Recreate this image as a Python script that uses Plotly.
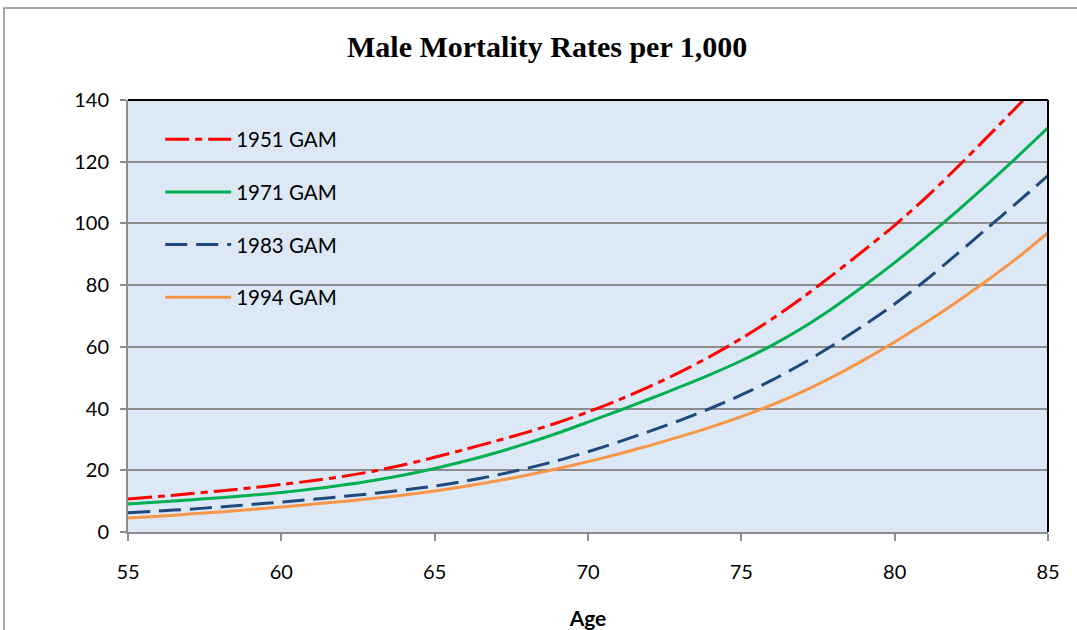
import plotly.graph_objects as go

ages = list(range(55, 86))

gam_1951 = [10.7, 11.5, 12.4, 13.3, 14.3, 15.4, 16.6, 18.0, 19.7, 21.8, 24.2, 26.8, 29.5, 32.3, 35.4,
            38.9, 42.8, 47.1, 51.8, 57.0, 62.7, 69.0, 76.0, 83.5, 91.3, 99.4, 108.2, 117.8, 127.8, 138.0, 148.5]
gam_1971 = [9.1, 9.7, 10.4, 11.1, 11.9, 12.8, 13.9, 15.2, 16.7, 18.5, 20.6, 23.0, 25.7, 28.7, 32.0,
            35.6, 39.3, 43.1, 47.0, 51.1, 55.5, 60.5, 66.2, 72.7, 79.8, 87.3, 95.3, 103.7, 112.5, 121.6, 131.0]
gam_1983 = [6.2, 6.8, 7.4, 8.1, 8.9, 9.7, 10.6, 11.5, 12.5, 13.6, 14.9, 16.5, 18.4, 20.6, 23.1,
            26.0, 29.2, 32.6, 36.2, 40.1, 44.4, 49.2, 54.6, 60.6, 67.0, 73.9, 81.5, 89.8, 98.3, 106.8, 115.5]
gam_1994 = [4.5, 5.1, 5.8, 6.5, 7.3, 8.1, 9.0, 9.9, 10.9, 12.0, 13.3, 14.8, 16.5, 18.4, 20.5,
            22.8, 25.3, 28.0, 30.9, 34.0, 37.4, 41.2, 45.5, 50.4, 55.8, 61.6, 67.8, 74.4, 81.4, 88.8, 97.0]

series_names = ["1951 GAM", "1971 GAM", "1983 GAM", "1994 GAM"]
series_values = [gam_1951, gam_1971, gam_1983, gam_1994]
series_colors = ["#FF0000", "#00B050", "#1F497D", "#F79646"]
series_dash = ["24px,6px,7px,6px", "solid", "22px,9px", "solid"]

x_ticks = [55, 60, 65, 70, 75, 80, 85]
y_ticks = [0, 20, 40, 60, 80, 100, 120, 140]

fig = go.Figure()
for name, vals, col, dash in zip(series_names, series_values, series_colors, series_dash):
    fig.add_trace(go.Scatter(
        x=ages, y=vals, mode="lines", name=name, legendgroup=name,
        line=dict(color=col, width=3, dash=dash, shape="spline", smoothing=0.8),
    ))

font_main = "Lato, Calibri, Carlito, sans-serif"

fig.update_layout(
    width=1077, height=630,
    margin=dict(l=128, r=29, t=100, b=98, autoexpand=False),
    paper_bgcolor="white",
    plot_bgcolor="#DCE8F6",
    title=dict(text="<b>Male Mortality Rates per 1,000</b>", x=0.508, xanchor="center",
               y=0.926, yanchor="middle",
               font=dict(family="Liberation Serif, Times New Roman, serif", size=30, color="black")),
    font=dict(family=font_main, size=20, color="black"),
    showlegend=True,
    legend=dict(x=0.035, y=0.955, xanchor="left", yanchor="top",
                bgcolor="rgba(0,0,0,0)", font=dict(family=font_main, size=20.5, color="black"),
                traceorder="grouped", tracegroupgap=23, itemwidth=66),
    xaxis=dict(range=[55, 85], tickvals=x_ticks, showgrid=False, zeroline=False,
               showline=True, linecolor="#8C8C8C", linewidth=2, automargin=False,
               ticks="outside", ticklen=7, tickcolor="#8C8C8C", tickwidth=1.5,
               ticklabelstandoff=14,
               tickfont=dict(size=20), title=dict(text="<b>Age</b>", font=dict(size=21), standoff=29)),
    yaxis=dict(range=[0, 140], tickvals=y_ticks, showgrid=True, gridcolor="#8C8C8C", gridwidth=1.5,
               zeroline=False, showline=True, linecolor="#8C8C8C", linewidth=2, automargin=False,
               ticks="outside", ticklen=6, tickcolor="#8C8C8C", tickwidth=1.5,
               ticklabelstandoff=7,
               tickfont=dict(size=20)),
)

# plot area top/right border
fig.add_shape(type="line", xref="paper", yref="paper", x0=0, x1=1, y0=1, y1=1,
              line=dict(color="black", width=2))
fig.add_shape(type="line", xref="paper", yref="paper", x0=1, x1=1, y0=0, y1=1,
              line=dict(color="black", width=2))
# outer chart border (extends past the window on right and bottom)
fig.add_shape(type="rect", xref="paper", yref="paper",
              x0=(4 - 128) / 920, x1=(1090 - 128) / 920,
              y0=(532 - 645) / 432, y1=(532 - 8) / 432,
              line=dict(color="#8C8C8C", width=1.5), fillcolor="rgba(0,0,0,0)", layer="below")

fig.write_html("out.html", config={"displayModeBar": False},
               post_script="document.body.style.margin='0';document.body.style.overflow='hidden';")
